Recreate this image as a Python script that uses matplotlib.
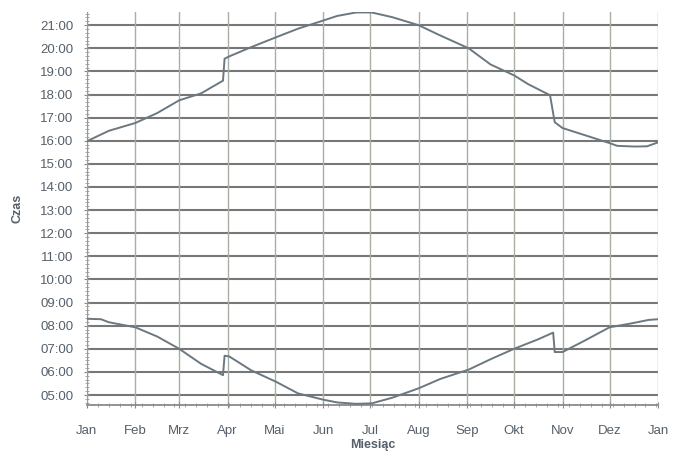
import matplotlib
matplotlib.use("Agg")
import matplotlib.pyplot as plt
from matplotlib.ticker import FixedLocator, MultipleLocator

plt.rcParams["font.family"] = ["Liberation Sans", "DejaVu Sans"]

# Month start positions (day of year) and labels
month_starts = [0, 31, 59, 90, 120, 151, 181, 212, 243, 273, 304, 334, 365]
month_labels = ["Jan", "Feb", "Mrz", "Apr", "Mai", "Jun", "Jul",
                "Aug", "Sep", "Okt", "Nov", "Dez", "Jan"]

# Sunset times (hours) by day of year
sunset_days = [0, 14, 31, 45, 59, 73, 87, 88, 91, 105, 121, 135, 151,
               160, 172, 182, 195, 212, 226, 244, 258, 273, 282, 296,
               299, 304, 334, 339, 350, 358, 365]
sunset_hours = [15.98, 16.43, 16.77, 17.2, 17.75, 18.05, 18.6, 19.55, 19.65,
                20.05, 20.48, 20.85, 21.2, 21.4, 21.55, 21.55, 21.35, 21.0,
                20.55, 20.0, 19.3, 18.83, 18.45, 17.97, 16.8, 16.55, 15.9,
                15.78, 15.75, 15.76, 15.93]

# Sunrise times (hours) by day of year
sunrise_days = [0, 9, 14, 31, 45, 59, 73, 87, 88, 91, 105, 121, 135, 151,
                160, 172, 182, 195, 212, 226, 244, 258, 273, 288, 298,
                299, 304, 318, 334, 348, 359, 365]
sunrise_hours = [8.3, 8.28, 8.15, 7.93, 7.53, 7.0, 6.35, 5.86, 6.7, 6.67,
                 6.07, 5.57, 5.07, 4.8, 4.68, 4.62, 4.64, 4.88, 5.29, 5.7,
                 6.1, 6.55, 7.0, 7.4, 7.7, 6.86, 6.86, 7.35, 7.93, 8.1,
                 8.25, 8.28]

y_hours = list(range(5, 22))

fig = plt.figure(figsize=(6.84, 4.53), dpi=100)
ax = fig.add_axes([0.127, 0.106, 0.835, 0.868])

line_color = "#6c7880"
ax.plot(sunset_days, sunset_hours, color=line_color, lw=1.4, zorder=3)
ax.plot(sunrise_days, sunrise_hours, color=line_color, lw=1.4, zorder=3)

ax.set_xlim(0, 365)
ax.set_ylim(4.57, 21.58)

ax.xaxis.set_major_locator(FixedLocator(month_starts))
ax.set_xticklabels(month_labels)
ax.xaxis.set_minor_locator(MultipleLocator(7))
ax.yaxis.set_major_locator(FixedLocator(y_hours))
ax.set_yticklabels([f"{h:02d}:00" for h in y_hours])
ax.yaxis.set_minor_locator(MultipleLocator(1 / 6))

# Grid: strong horizontal hour lines, lighter vertical month lines
for h in y_hours:
    ax.axhline(h, color="#777777", lw=1.5, zorder=1)
for d in month_starts:
    ax.axvline(d, color="#a8afa5", lw=1.0, zorder=1)

for s in ["top", "right"]:
    ax.spines[s].set_visible(False)
ax.spines["left"].set_color("#9a9a9a")
ax.spines["bottom"].set_color("#8a8a8a")
ax.spines["bottom"].set_linewidth(1.3)

text_color = "#56606a"
ax.tick_params(axis="both", which="major", labelsize=9.5, colors="#8a8a8a",
               labelcolor=text_color, length=5, direction="inout")
ax.tick_params(axis="both", which="minor", colors="#9a9a9a",
               length=3, direction="inout")
ax.tick_params(axis="x", which="major", pad=12)
ax.tick_params(axis="y", which="major", pad=7)

ax.set_xlabel("Miesiąc", fontsize=9, fontweight="bold", color=text_color,
              labelpad=1)
ax.set_ylabel("Czas", fontsize=9, fontweight="bold", color=text_color,
              labelpad=12)

fig.savefig("out.png", dpi=100)
